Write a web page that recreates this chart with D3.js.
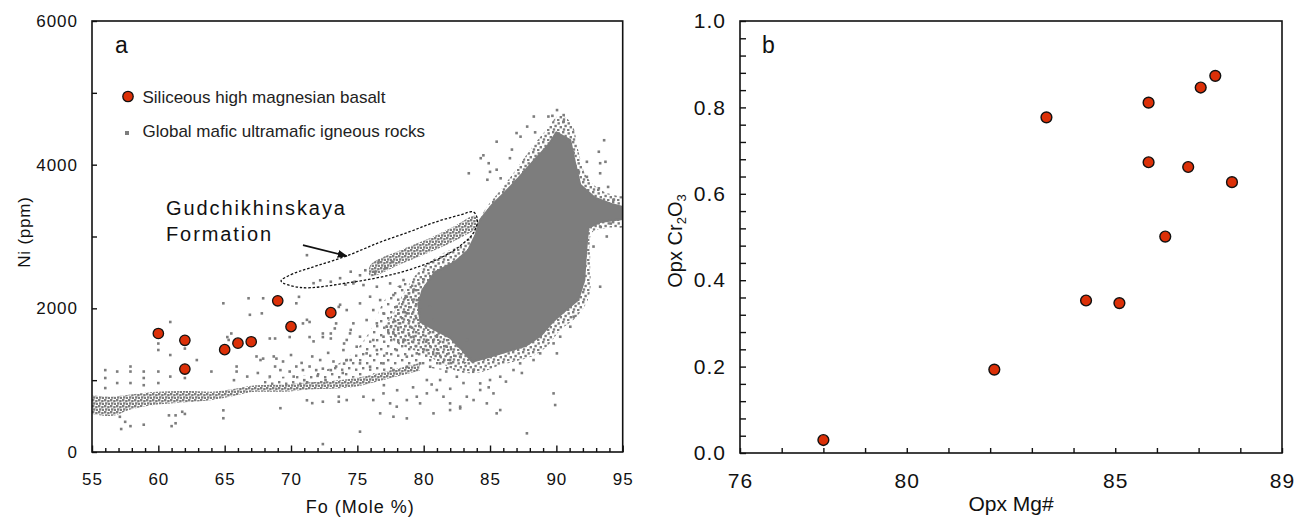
<!DOCTYPE html>
<html>
<head>
<meta charset="utf-8">
<script src="https://cdn.jsdelivr.net/npm/d3@7"></script>
<style>
  body { margin: 0; background: #fff; }
  svg { display: block; font-family: Arial, "Liberation Sans", sans-serif; }
</style>
</head>
<body>
<div id="chart"></div>
<script>
// ---- panel a : olivine Fo vs Ni ----
var foTicks = [55, 60, 65, 70, 75, 80, 85, 90, 95];
var niTicks = [0, 2000, 4000, 6000];

// siliceous high magnesian basalt (red dots)
var basaltFo = [60, 62, 62, 65, 66, 67, 69, 70, 73];
var basaltNi = [1650, 1555, 1155, 1425, 1515, 1535, 2105, 1745, 1940];

// global mafic-ultramafic rocks: dense core, speckled halo, trends, loose points
var globalCore = [[90.0,4450],[91.05,4340],[91.35,4070],[91.8,3720],[92.9,3540],[94.2,3450],[95.2,3400],[95.2,3250],
  [93.3,3200],[92.4,3120],[92.25,2810],[92.1,2390],[91.65,2120],[90.75,1980],[89.7,1810],[88.8,1615],[87.65,1475],
  [86.15,1390],[84.85,1320],[83.65,1255],[82.9,1420],[82.0,1590],[80.85,1700],[79.75,1810],[79.6,2045],[79.9,2255],
  [80.85,2505],[82.35,2645],[83.35,2810],[83.9,3020],[84.25,3230],[85.15,3440],[86.15,3620],[87.15,3815],[88.2,4035],[89.4,4275]];
var globalHalo = [[90.3,4690],[91.2,4550],[91.65,4200],[92.2,3860],[93.3,3650],[94.8,3560],[95.2,3560],[95.2,3150],[93.9,3120],
  [92.7,3060],[92.55,2670],[92.55,2250],[92.2,2050],[91.4,1860],[90.3,1700],[89.4,1490],[88.4,1350],[87.3,1280],
  [85.8,1210],[84.3,1110],[82.75,1110],[81.2,1250],[79.7,1390],[78.2,1490],[77.1,1700],[77.85,1980],[78.6,2250],
  [79.7,2530],[81.2,2740],[82.75,2880],[83.9,3090],[84.6,3370],[85.8,3650],[86.9,3920],[88.0,4200],[89.2,4480]];
var globalFan = [[68,1000],[72,1100],[74.5,1350],[76,1700],[77,2100],[78,2300],[80,2450],[82,2600],[83.5,2700],
  [84,2300],[83.5,1300],[82,1150],[79,1200],[76,1080],[72,960],[68,920]];
var gudBand = [[75.97,2600],[78.23,2810],[80.49,2980],[82.38,3150],[83.88,3285],[84.11,3150],[82.75,2980],
  [80.49,2785],[78.23,2615],[75.97,2450]];
var lowTrendFo = [55, 56.4, 57.9, 59.9, 61.9, 63.9, 65.4, 67.4, 69.4, 71.4, 73.0, 74.5, 76.7, 78.2, 79.7];
var lowTrendTop = [790, 770, 800, 840, 850, 840, 870, 930, 940, 970, 990, 1020, 1100, 1170, 1240];
var lowTrendBottom = [530, 500, 590, 660, 690, 720, 770, 840, 840, 870, 880, 900, 990, 1060, 1130];
var globalScatter = [
  [56.0,1140],[56.0,1030],[56.9,1120],[57.9,1190],[57.9,1120],[58.9,1120],[58.9,1030],[60.0,1120],[60.9,1050],
  [56.0,890],[56.9,960],[57.9,960],[58.9,930],[60.0,960],
  [57.1,490],[57.2,320],[57.9,360],[58.9,380],[57.5,420],[60.8,510],[61.3,510],[61.0,360],[61.3,400],[61.8,560],
  [62.0,530],[64.9,580],[64.9,470],[69.2,610],[72.4,110],
  [60.0,1510],[60.0,1420],[60.9,1810],[60.9,1350],[62.0,1440],[62.0,1030],[62.9,1280],[64.0,1120],[64.9,2070],
  [65.2,1600],[65.5,1650],[65.3,1560],[65.9,1190],[65.9,1120],[66.8,2140],[66.9,1910],[67.8,1930],[67.9,2140],
  [67.4,1330],[67.7,1280],[67.9,1300],[68.4,1580],[68.8,1580],[68.7,1330],[68.9,1300],[68.8,1190],[69.4,1260],
  [69.9,1600],[70.4,2070],[70.6,2160],[70.9,1790],[71.2,1840],[71.4,1810],[71.4,1600],[71.7,1540],[72.2,1280],
  [72.4,1650],[72.4,1600],[73.0,1650],[73.0,1580],[73.3,1720],[73.4,1790],[73.6,2020],[73.7,2050],[74.0,1510],
  [74.2,1560],[74.5,1700],
  [65.7,1000],[66.7,1050],[67.5,1100],[68.4,1050],[69.2,1140],[69.9,1120],[70.4,1190],[70.9,1140],[71.4,1190],
  [71.9,1140],[72.4,1160],[73.0,1140],[73.4,1190],[74.0,1230],[74.5,1280],
  [71.2,720],[71.6,680],[72.4,700],[73.6,770],[73.6,700],
  [70.2,1050],[70.8,1240],[71.6,1330],[72.0,1060],[72.8,1380],[73.2,1260],[73.9,1100],[70.0,1350],[71.0,1000],[72.6,1000],
  [71.7,2350],[72.2,2390],[73.0,2370],[73.7,2420],[74.1,2330],[74.5,2510],[74.8,2370],[75.2,2460],[75.6,2530],
  [76.3,2510],[76.6,2650],[77.1,2560],[77.6,2650],[71.2,2740],
  [90.05,4760],[90.55,4690],[89.4,4670],[89.7,4680],[90.55,4600],[88.3,4670],[87.8,4530],[87.0,4440],[87.3,4390],
  [88.4,4450],[85.5,4320],[86.65,4210],[84.5,4130],[84.3,4090],[86.5,4090],[84.9,4020],[83.4,3880],[85.0,3900],
  [85.5,3930],[84.8,3790],[85.8,3810],[93.6,4340],[93.2,4180],[93.3,4020],[93.7,4040],[92.3,4040],[91.3,4160],
  [91.7,3900],[92.3,3830],[93.3,3880],[93.9,3690],[94.3,3510],[94.1,3180],[93.3,3140],[93.8,3000],[91.8,2950],
  [92.8,2860],[93.2,3670],
  [74.7,2347],[75.46,2324],[76.47,2301],[77.47,2347],[78.22,2301],[78.48,2394],[79.23,2255],[75.96,2162],
  [76.72,2115],[77.72,2185],[78.73,2162],[79.48,2115],[74.2,1976],[75.2,2069],[76.2,1976],[76.97,1930],
  [77.97,2023],[78.73,1930],[79.73,1976],[80.49,2023],[74.7,1791],[75.7,1837],[76.47,1791],[77.22,1744],
  [78.22,1791],[78.98,1744],[79.98,1791],[80.74,1837],[74.45,1651],[75.2,1605],[76.2,1559],[76.97,1605],
  [77.72,1651],[78.48,1559],[79.23,1605],[80.24,1559],[80.99,1605],[73.95,1419],[74.95,1466],[75.7,1373],
  [76.47,1419],[77.22,1373],[77.97,1419],[78.73,1327],[79.48,1373],[80.24,1419],[80.99,1373],[81.74,1466],
  [82.5,1512],[83.25,1559],[74.2,1280],[75.2,1234],[75.96,1187],[76.97,1234],[77.72,1141],[78.73,1187],
  [79.73,1234],[80.49,1187],[81.24,1234],[81.99,1280],[82.75,1327],[83.5,1327],[84.26,1373],
  [74.2,723],[75.46,770],[76.2,723],[76.97,816],[77.47,677],[77.97,631],[78.73,723],[79.48,770],[79.73,677],
  [80.24,816],[80.99,863],[81.49,770],[81.99,677],[82.75,631],[83.25,770],[83.76,723],[84.26,863],[84.76,677],
  [85.26,816],[85.77,584],[76.72,538],[77.72,491],[78.73,468],[80.74,538],[81.99,584],[82.75,607],[85.5,538],
  [75.2,283],[87.78,260],[89.79,816],[89.91,654],[93.3,2301],
  [91.05,2023],[91.3,1883],[91.05,1744],[90.29,1605],[89.79,1512],[90.04,1373],[88.78,1373],[88.28,1280],
  [87.27,1234],[86.77,1141],[85.77,1048],[85.0,1002],[84.26,955],[83.76,1141],[82.5,1048],[81.24,1002],[80.24,1002],
  [79.2,900],[80.6,940],[82.0,880],[83.0,960],[84.9,900],[86.2,980],[87.4,1100],[78.0,860],[77.0,930],[81.7,1120]
];
// dashed outline around the Gudchikhinskaya Formation trend
var gudOutline = [[69.25,2380],[70.0,2470],[71.4,2560],[74.2,2730],[76.7,2920],[79.0,3070],[80.7,3190],[82.75,3300],
  [83.75,3340],[84.05,3230],[83.75,3050],[82.75,2870],[81.24,2700],[78.23,2500],[74.46,2360],[70.7,2290]];
var gudArrow = [[70.9,2880], [74.2,2728]];

// ---- panel b : opx Mg# vs Cr2O3 ----
var mgTicks = [76, 80, 85, 89];
var crTicks = [0, 0.2, 0.4, 0.6, 0.8, 1.0];
var opxMg = [78.0, 82.1, 83.35, 84.3, 85.1, 85.8, 85.8, 86.2, 86.75, 87.05, 87.4, 87.8];
var opxCr = [0.030, 0.193, 0.777, 0.353, 0.347, 0.811, 0.673, 0.501, 0.662, 0.846, 0.873, 0.627];

var grey = "#7d7d7d", red = "#dc3008";

var svg = d3.select("#chart").append("svg")
    .attr("width", 1304)
    .attr("height", 521);

var defs = svg.append("defs");

// speckle fills: irregular squares inside a small tile
function speckle(id, tile, spots) {
  var p = defs.append("pattern").attr("id", id)
      .attr("patternUnits", "userSpaceOnUse").attr("width", tile).attr("height", tile);
  spots.forEach(function(s) {
    p.append("rect").attr("x", s[0]).attr("y", s[1]).attr("width", 2.4).attr("height", 2.4).attr("fill", grey);
  });
}
speckle("specksDense", 6, [[0, 0], [3.2, 1], [1, 3.3], [4, 4]]);
speckle("specks", 10, [[0, 0], [5.5, 1.2], [2.4, 3.8], [7.6, 5], [0.8, 7.3], [5, 8]]);
speckle("specksSparse", 14, [[1, 2], [8, 5], [4, 10], [11, 11.5]]);

defs.append("marker").attr("id", "arrowHead")
    .attr("viewBox", "0 0 10 10").attr("refX", 9).attr("refY", 5)
    .attr("markerWidth", 10).attr("markerHeight", 10).attr("markerUnits", "userSpaceOnUse")
    .attr("orient", "auto")
  .append("path").attr("d", "M0,1 L10,5 L0,9 Z").attr("fill", "#111");

drawPanelA();
drawPanelB();

function styleTicks(g, size) {
  g.attr("font-family", "Arial, 'Liberation Sans', sans-serif").attr("font-size", size);
  g.selectAll("text").attr("fill", "#111").style("letter-spacing", "1px");
  g.select(".domain").remove();
  g.selectAll(".tick line").attr("stroke", "#111").attr("stroke-width", 1.4);
}

function drawPanelA() {
  var margin = {top: 21, left: 92},
      width = 530.7, height = 431;

  var x = d3.scaleLinear().domain([55, 95]).range([0, width]);
  var y = d3.scaleLinear().domain([0, 6000]).range([height, 0]);

  var g = svg.append("g").attr("transform", "translate(" + margin.left + "," + margin.top + ")");

  defs.append("clipPath").attr("id", "clipA")
    .append("rect").attr("width", width).attr("height", height);

  var cloud = g.append("g").attr("clip-path", "url(#clipA)");
  var poly = d3.line().x(function(d) { return x(d[0]); }).y(function(d) { return y(d[1]); })
      .curve(d3.curveCatmullRomClosed);
  var ring = d3.line().x(function(d) { return x(d[0]); }).y(function(d) { return y(d[1]); })
      .curve(d3.curveLinearClosed);

  // speckled fan, halo and trends
  cloud.append("path").datum(globalFan).attr("d", poly).attr("fill", "url(#specksSparse)");
  cloud.append("path").datum(globalHalo).attr("d", poly).attr("fill", "url(#specks)");
  var lowArea = d3.area().curve(d3.curveMonotoneX)
      .x(function(d, i) { return x(lowTrendFo[i]); })
      .y0(function(d, i) { return y(lowTrendBottom[i]); })
      .y1(function(d, i) { return y(lowTrendTop[i]); });
  cloud.append("path").datum(lowTrendFo).attr("d", lowArea).attr("fill", "url(#specksDense)");
  cloud.append("path").datum(gudBand).attr("d", poly).attr("fill", "url(#specksDense)");
  cloud.append("path").datum(globalCore).attr("d", ring).attr("fill", grey)
    .attr("stroke", grey).attr("stroke-width", 2).attr("stroke-linejoin", "round");

  cloud.selectAll("rect.pt").data(globalScatter).enter().append("rect")
    .attr("class", "pt")
    .attr("x", function(d) { return x(d[0]) - 1.3; })
    .attr("y", function(d) { return y(d[1]) - 1.3; })
    .attr("width", 2.6).attr("height", 2.6)
    .attr("fill", grey);

  // Gudchikhinskaya outline and arrow
  g.append("path").datum(gudOutline).attr("d", poly)
    .attr("fill", "none").attr("stroke", "#111").attr("stroke-width", 1.3)
    .attr("stroke-dasharray", "2.5,1.8");
  g.append("line")
    .attr("x1", x(gudArrow[0][0])).attr("y1", y(gudArrow[0][1]))
    .attr("x2", x(gudArrow[1][0])).attr("y2", y(gudArrow[1][1]))
    .attr("stroke", "#111").attr("stroke-width", 1.6)
    .attr("marker-end", "url(#arrowHead)");
  g.append("text").attr("x", 74).attr("y", 194)
    .attr("font-size", 20).style("letter-spacing", "1.9px").attr("fill", "#111")
    .text("Gudchikhinskaya");
  g.append("text").attr("x", 74).attr("y", 220)
    .attr("font-size", 20).style("letter-spacing", "1.9px").attr("fill", "#111")
    .text("Formation");

  // basalt samples
  g.selectAll("circle.basalt").data(basaltFo).enter().append("circle")
    .attr("class", "basalt")
    .attr("cx", function(d) { return x(d); })
    .attr("cy", function(d, i) { return y(basaltNi[i]); })
    .attr("r", 5.2)
    .attr("fill", red).attr("stroke", "#111").attr("stroke-width", 1.3);

  // axes, ticks pointing inward
  var xAxis = g.append("g").attr("transform", "translate(0," + height + ")")
    .call(d3.axisBottom(x).tickValues(d3.range(55, 96, 1)).tickSizeInner(-4).tickSizeOuter(0)
      .tickPadding(21).tickFormat(function(d) { return foTicks.indexOf(d) >= 0 ? d : ""; }));
  styleTicks(xAxis, 17);
  xAxis.selectAll(".tick line").attr("y2", function(d) { return foTicks.indexOf(d) >= 0 ? -6.5 : -4; });

  var yAxis = g.append("g")
    .call(d3.axisLeft(y).tickValues(d3.range(0, 6001, 1000)).tickSizeInner(-5).tickSizeOuter(0)
      .tickPadding(14).tickFormat(function(d) { return niTicks.indexOf(d) >= 0 ? d : ""; }));
  styleTicks(yAxis, 17);

  g.append("rect").attr("width", width).attr("height", height)
    .attr("fill", "none").attr("stroke", "#111").attr("stroke-width", 1.6);

  // legend
  g.append("circle").attr("cx", 36).attr("cy", 75.5).attr("r", 5.2)
    .attr("fill", red).attr("stroke", "#111").attr("stroke-width", 1.3);
  g.append("text").attr("x", 50.5).attr("y", 81.5).attr("font-size", 17).attr("fill", "#222")
    .text("Siliceous high magnesian basalt");
  g.append("rect").attr("x", 33).attr("y", 110).attr("width", 4).attr("height", 4).attr("fill", grey);
  g.append("text").attr("x", 50.5).attr("y", 116).attr("font-size", 17).attr("fill", "#222")
    .text("Global mafic ultramafic igneous rocks");

  g.append("text").attr("x", 23).attr("y", 32).attr("font-size", 23).attr("fill", "#111").text("a");

  // axis titles
  g.append("text")
    .attr("x", x(75) + 3).attr("y", height + 61)
    .style("text-anchor", "middle").attr("font-size", 18).style("letter-spacing", "1px").attr("fill", "#111")
    .text("Fo (Mole %)");
  g.append("text")
    .attr("transform", "translate(" + (24 - margin.left) + "," + (232 - margin.top) + ") rotate(-90)")
    .attr("dy", "0.35em")
    .style("text-anchor", "middle").attr("font-size", 17).style("letter-spacing", "0.8px").attr("fill", "#111")
    .text("Ni (ppm)");
}

function drawPanelB() {
  var margin = {top: 21, left: 740},
      width = 542, height = 432;

  var x = d3.scaleLinear().domain([76, 89]).range([0, width]);
  var y = d3.scaleLinear().domain([0, 1]).range([height, 0]);

  var g = svg.append("g").attr("transform", "translate(" + margin.left + "," + margin.top + ")");

  g.selectAll("circle.opx").data(opxMg).enter().append("circle")
    .attr("class", "opx")
    .attr("cx", function(d) { return x(d); })
    .attr("cy", function(d, i) { return y(opxCr[i]); })
    .attr("r", 5.4)
    .attr("fill", red).attr("stroke", "#111").attr("stroke-width", 1.4);

  var xAxis = g.append("g").attr("transform", "translate(0," + height + ")")
    .call(d3.axisBottom(x).tickValues(d3.range(76, 90, 1)).tickSizeInner(-5).tickSizeOuter(0)
      .tickPadding(20).tickFormat(function(d) { return mgTicks.indexOf(d) >= 0 ? d : ""; }));
  styleTicks(xAxis, 21);

  var yAxis = g.append("g")
    .call(d3.axisLeft(y).tickValues(d3.range(0, 26, 1).map(function(i) { return +(i * 0.04).toFixed(2); }))
      .tickSizeInner(-6).tickSizeOuter(0).tickPadding(14)
      .tickFormat(function(d) { return crTicks.indexOf(d) >= 0 ? d.toFixed(1) : ""; }));
  styleTicks(yAxis, 21);

  g.append("rect").attr("width", width).attr("height", height)
    .attr("fill", "none").attr("stroke", "#111").attr("stroke-width", 1.6);

  g.append("text").attr("x", 22).attr("y", 32).attr("font-size", 23).attr("fill", "#111").text("b");

  g.append("text")
    .attr("x", 1011 - margin.left).attr("y", 511 - margin.top)
    .style("text-anchor", "middle").attr("font-size", 21).attr("fill", "#111")
    .text("Opx Mg#");

  var yt = g.append("text")
    .attr("transform", "translate(" + (675 - margin.left) + "," + (241 - margin.top) + ") rotate(-90)")
    .attr("dy", "0.35em")
    .style("text-anchor", "middle").attr("font-size", 20).attr("fill", "#111");
  yt.append("tspan").text("Opx Cr");
  yt.append("tspan").attr("dy", 4).attr("font-size", 13).text("2");
  yt.append("tspan").attr("dy", -4).text("O");
  yt.append("tspan").attr("dy", 4).attr("font-size", 13).text("3");
}
</script>
</body>
</html>
